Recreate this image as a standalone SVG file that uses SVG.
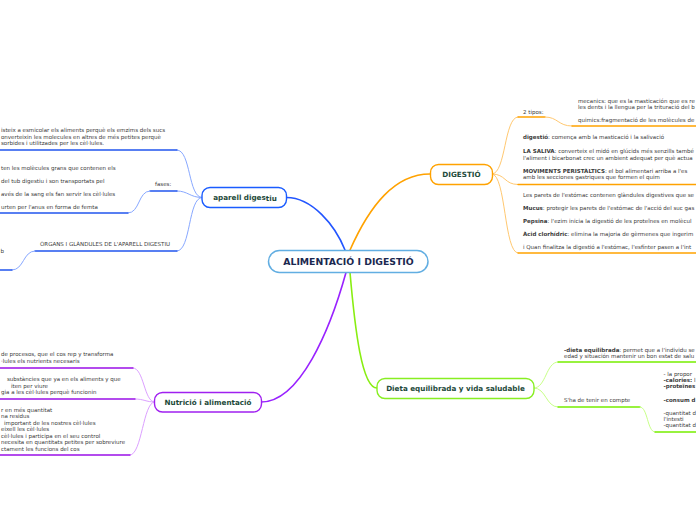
<svg xmlns="http://www.w3.org/2000/svg" width="696" height="520" viewBox="0 0 696 520">
<style>
.t{font-family:"DejaVu Sans",Verdana,sans-serif;font-size:5.5px;fill:#3a3a3a}
.b{font-weight:bold}
.n{font-family:"DejaVu Sans",Verdana,sans-serif;font-size:7.2px;font-weight:bold;fill:#1d4a3a;text-anchor:middle}
.c{fill:none;stroke-linecap:round}
.bl{stroke:#2255ee;stroke-width:1.3}
.blc{stroke:#88a8ff;stroke-width:1}
.or{stroke:#ffa200;stroke-width:1.3}
.orc{stroke:#ffc870;stroke-width:1}
.pu{stroke:#9a10e8;stroke-width:1.3}
.puc{stroke:#dca0ff;stroke-width:1}
.gr{stroke:#77ee00;stroke-width:1.3}
.grc{stroke:#c8ff88;stroke-width:1}
</style>
<rect width="696" height="520" fill="#fff"/>
<g id="connectors">
  <path class="c" d="M345 250 C335 225,312 197.5,286.5 197.5" stroke="#2255ff" stroke-width="1.6"/>
  <path class="c" d="M350 250 C370 205,395 174,430 174" stroke="#ffa200" stroke-width="1.6"/>
  <path class="c" d="M346 272.5 C330 330,300 402,261 402" stroke="#9922ff" stroke-width="1.6"/>
  <path class="c" d="M350 272.5 C355 330,362 388,377 388" stroke="#88ee11" stroke-width="1.6"/>
  <path class="c orc" d="M492 174 C506 174,504 117,518 117"/>
  <path class="c or" d="M518 117 H545"/>
  <path class="c orc" d="M545 117 C558 117,558 126,572 126"/>
  <path class="c or" d="M572 126 H696"/>
  <path class="c orc" d="M492 174 C506 174,504 184.5,518 184.5"/>
  <path class="c or" d="M518 184.5 H696"/>
  <path class="c orc" d="M492 174 C506 174,504 253,518 253"/>
  <path class="c or" d="M518 253 H696"/>
  <path class="c blc" d="M202 197.5 C188 197.5,191 150,177 150"/>
  <path class="c bl" d="M0 150 H177"/>
  <path class="c blc" d="M202 197.5 C190 197.5,188 191,177 191"/>
  <path class="c bl" d="M150 191 H177"/>
  <path class="c blc" d="M150 191 C138 191,140 213,128 213"/>
  <path class="c bl" d="M0 213 H128"/>
  <path class="c blc" d="M202 197.5 C188 197.5,191 251,177 251"/>
  <path class="c bl" d="M35 251 H177"/>
  <path class="c blc" d="M35 251 C23 251,24 270,12 270"/>
  <path class="c bl" d="M0 270 H12"/>
  <path class="c puc" d="M154.5 402 C144 402,144 368,133 368"/>
  <path class="c pu" d="M0 368 H133"/>
  <path class="c puc" d="M154.5 402 C146 402,144 399,135 399"/>
  <path class="c pu" d="M0 399 H135"/>
  <path class="c puc" d="M154.5 402 C143 402,142 455,130 455"/>
  <path class="c pu" d="M0 455 H130"/>
  <path class="c grc" d="M534 388 C546 388,546 362,558 362"/>
  <path class="c gr" d="M558 362 H696"/>
  <path class="c grc" d="M534 388 C546 388,546 407,558 407"/>
  <path class="c gr" d="M558 407 H640"/>
  <path class="c grc" d="M640 407 C648 407,647 432,655 432"/>
  <path class="c gr" d="M655 432 H696"/>
</g>
<g id="center">
  <rect x="268.5" y="250.5" width="159.5" height="22" rx="11" fill="#fff" stroke="#62aee2" stroke-width="1.5"/>
  <text x="348.5" y="264.8" font-family="'DejaVu Sans',Verdana,sans-serif" font-size="9.3" font-weight="bold" fill="#1a2850" text-anchor="middle">ALIMENTACIÓ I DIGESTIÓ</text>
</g>
<g id="digestio">
  <rect x="430.5" y="164.5" width="62" height="20" rx="8" fill="#fff" stroke="#ffa200" stroke-width="1.4"/>
  <text class="n" x="461.5" y="177">DIGESTIÓ</text>
</g>
<g id="aparell">
  <rect x="202" y="187.5" width="84.5" height="20" rx="8" fill="#fff" stroke="#1a5cff" stroke-width="1.4"/>
  <text class="n" x="245" y="199.5">aparell diges<tspan dy="1">tiu</tspan></text>
</g>
<g id="dieta">
  <rect x="377" y="378.5" width="157" height="20" rx="8" fill="#fff" stroke="#88ee22" stroke-width="1.4"/>
  <text class="n" x="455.5" y="391">Dieta equilibrada y vida saludable</text>
</g>
<g id="nutricio">
  <rect x="154.5" y="392.5" width="107" height="19.5" rx="8" fill="#fff" stroke="#a020f0" stroke-width="1.4"/>
  <text class="n" x="208" y="404.8">Nutrició i alimentació</text>
</g>
<g id="digestio-texts">
  <text class="t" x="523" y="113.5">2 tipos:</text>
  <text class="t" x="578" y="103">mecanics: que es la masticación que es re</text>
  <text class="t" x="578" y="109">les dents i la llengua per la trituració del b</text>
  <text class="t" x="578" y="122">quimics:fragmentació de les molècules de</text>
  <text class="t" x="523" y="139"><tspan class="b">digestió</tspan>: comença amb la masticació i la salivació</text>
  <text class="t" x="523" y="153"><tspan class="b">LA SALIVA</tspan>: converteix el midó en glúcids més senzills també</text>
  <text class="t" x="523" y="159.5">l'aliment i bicarbonat crec un ambient adequat per què actua</text>
  <text class="t" x="523" y="172.5"><tspan class="b">MOVIMENTS PERISTÀLTICS</tspan>: el bol alimentari arriba a l'es</text>
  <text class="t" x="523" y="179">amb les secciones gastriques que formen el quim</text>
  <text class="t" x="523" y="197">Les parets de l'estómac contenen glàndules digestives que se</text>
  <text class="t" x="523" y="210"><tspan class="b">Mucus</tspan>: protegir les parets de l'estómac de l'acció del suc gas</text>
  <text class="t" x="523" y="223"><tspan class="b">Pepsina</tspan>: l'ezim inicia la digestió de les proteïnes  en molècul</text>
  <text class="t" x="523" y="236"><tspan class="b">Àcid clorhídric</tspan>: elimina la majoria de gèrmenes que ingerim</text>
  <text class="t" x="523" y="248.5">i Quan finalitza la digestió a l'estómac, l'esfínter pasen a l'int</text>
</g>
<g id="aparell-texts">
  <text class="t" x="1" y="132">isteix a esmicolar els aliments perquè els emzims dels sucs</text>
  <text class="t" x="1" y="138.5">onverteixin les molecules en altres de més petites perquè</text>
  <text class="t" x="1" y="145">sorbides i utilitzades per les cèl·lules.</text>
  <text class="t" x="1" y="170">ten les molècules grans que contenen els</text>
  <text class="t" x="1" y="183">del tub digestiu i son transportats pel</text>
  <text class="t" x="1" y="196">avés de la sang els fan servir les cèl·lules</text>
  <text class="t" x="1" y="209">urten per l'anus en forma de femta</text>
  <text class="t" x="155" y="186">fases:</text>
  <text class="t" x="40" y="246">ÒRGANS I GLÀNDULES DE L'APARELL DIGESTIU</text>
  <text class="t" x="0.5" y="253">b</text>
</g>
<g id="nutricio-texts">
  <text class="t" x="1" y="356">de procesos, que el  cos rep y transforma</text>
  <text class="t" x="1" y="362.5">·lules els nutrients necesaris</text>
  <text class="t" x="7" y="381">substàncies  que ya en els aliments y que</text>
  <text class="t" x="11" y="387.5">iten per viure</text>
  <text class="t" x="1" y="394">gia a les cèl·lules perquè funcionin</text>
  <text class="t" x="1" y="412">r en més quantitat</text>
  <text class="t" x="1" y="418">na residus</text>
  <text class="t" x="4" y="424.5">important de les nostres cèl·lules</text>
  <text class="t" x="1" y="431">eixell les cèl·lules</text>
  <text class="t" x="1" y="437.5">cèl·lules i participa en el seu control</text>
  <text class="t" x="1" y="444">necesita en quantitats petites per sobreviure</text>
  <text class="t" x="1" y="450.5">ctament les funcions del cos</text>
</g>
<g id="dieta-texts">
  <text class="t" x="564" y="351.5"><tspan class="b">-dieta equilibrada</tspan>: permet que a l'individu se</text>
  <text class="t" x="564" y="357.5">edad y situación mantenir un bon estat de salu</text>
  <text class="t" x="564" y="402">S'ha de tenir en compte</text>
  <text class="t" x="663.5" y="376">- la propor</text>
  <text class="t" x="663.5" y="382"><tspan class="b">-calories:</tspan> l</text>
  <text class="t b" x="663.5" y="388">-proteïnes</text>
  <text class="t b" x="663.5" y="402">-consum d</text>
  <text class="t" x="663.5" y="414.5">-quantitat d</text>
  <text class="t" x="663.5" y="420.5">l'intesti</text>
  <text class="t" x="663.5" y="427">-quantitat d</text>
</g>
</svg>
